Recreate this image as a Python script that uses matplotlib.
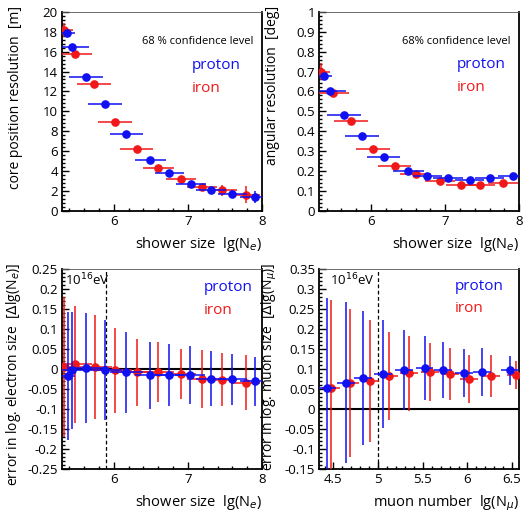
import numpy as np
import matplotlib
matplotlib.use("Agg")
import matplotlib.pyplot as plt
from matplotlib.ticker import MultipleLocator, AutoMinorLocator

plt.rcParams["font.family"] = ["Open Sans", "DejaVu Sans"]
plt.rcParams["axes.unicode_minus"] = False

BLUE = "#1010f0"
RED = "#f01818"

# --- core position resolution vs shower size ---
core_p_x = [5.37, 5.44, 5.63, 5.88, 6.17, 6.49, 6.75, 7.04, 7.31, 7.60, 7.91]
core_p_y = [17.9, 16.5, 13.5, 10.7, 7.7, 5.07, 3.86, 2.75, 2.1, 1.68, 1.4]
core_p_yerr = [0.3, 0.2, 0.2, 0.2, 0.2, 0.2, 0.2, 0.2, 0.3, 0.4, 0.6]
core_r_x = [5.33, 5.48, 5.73, 6.02, 6.31, 6.60, 6.91, 7.19, 7.46, 7.78]
core_r_y = [18.2, 15.8, 12.7, 8.9, 6.25, 4.36, 3.22, 2.45, 2.08, 1.64]
core_r_yerr = [0.7, 0.2, 0.2, 0.2, 0.2, 0.2, 0.2, 0.3, 0.55, 0.85]

# --- angular resolution vs shower size ---
ang_p_x = [5.37, 5.44, 5.63, 5.88, 6.17, 6.50, 6.76, 7.04, 7.33, 7.60, 7.92]
ang_p_y = [0.68, 0.604, 0.483, 0.374, 0.273, 0.201, 0.176, 0.164, 0.154, 0.164, 0.173]
ang_p_yerr = [0.01, 0.01, 0.008, 0.008, 0.006, 0.006, 0.006, 0.006, 0.006, 0.008, 0.01]
ang_r_x = [5.32, 5.48, 5.73, 6.02, 6.32, 6.60, 6.93, 7.21, 7.47, 7.78]
ang_r_y = [0.70, 0.593, 0.45, 0.31, 0.227, 0.186, 0.148, 0.128, 0.131, 0.138]
ang_r_yerr = [0.045, 0.01, 0.008, 0.008, 0.006, 0.006, 0.006, 0.006, 0.008, 0.01]

# x error (bin half width) for shower size panels
ne_p_xerr = [0.1, 0.22, 0.23, 0.23, 0.22, 0.21, 0.2, 0.2, 0.2, 0.2, 0.2]
ne_r_xerr = [0.12, 0.22, 0.23, 0.23, 0.22, 0.21, 0.2, 0.2, 0.2, 0.2]

# --- error in log electron size ---
dne_p_x = [5.38, 5.44, 5.63, 5.88, 6.17, 6.49, 6.75, 7.03, 7.31, 7.60, 7.91]
dne_p_y = [-0.0175, -0.004, 0.002, -0.003, -0.009, -0.016, -0.015, -0.015, -0.024, -0.026, -0.031]
dne_p_yerr = [0.16, 0.145, 0.137, 0.124, 0.10, 0.084, 0.078, 0.073, 0.069, 0.064, 0.061]
dne_r_x = [5.33, 5.48, 5.74, 6.02, 6.31, 6.60, 6.91, 7.19, 7.46, 7.78]
dne_r_y = [0.004, 0.012, 0.004, -0.004, -0.009, -0.008, -0.013, -0.025, -0.027, -0.034]
dne_r_yerr = [0.175, 0.146, 0.13, 0.106, 0.084, 0.075, 0.062, 0.073, 0.066, 0.068]

# --- error in log muon size ---
dnm_p_x = [4.43, 4.64, 4.835, 5.055, 5.29, 5.52, 5.73, 5.96, 6.165, 6.48]
dnm_p_y = [0.053, 0.066, 0.077, 0.0875, 0.097, 0.102, 0.0975, 0.089, 0.093, 0.096]
dnm_p_yerr = [0.225, 0.2, 0.168, 0.135, 0.1, 0.08, 0.07, 0.06, 0.06, 0.037]
dnm_r_x = [4.47, 4.69, 4.905, 5.12, 5.35, 5.58, 5.80, 6.02, 6.26, 6.54]
dnm_r_y = [0.053, 0.064, 0.069, 0.083, 0.089, 0.092, 0.087, 0.075, 0.083, 0.085]
dnm_r_yerr = [0.22, 0.185, 0.152, 0.11, 0.093, 0.073, 0.065, 0.059, 0.052, 0.034]
nmu_xerr = 0.1

fig = plt.figure(figsize=(5.25, 5.12), dpi=100)
ax1 = fig.add_axes([0.118, 0.588, 0.381, 0.389])
ax2 = fig.add_axes([0.608, 0.588, 0.381, 0.389])
ax3 = fig.add_axes([0.118, 0.084, 0.381, 0.391])
ax4 = fig.add_axes([0.608, 0.084, 0.381, 0.391])


def draw(ax, x, y, xerr, yerr, color, z):
    ax.errorbar(x, y, xerr=xerr, yerr=yerr, fmt="o", color=color, ms=5.2,
                elinewidth=1.1, capsize=0, zorder=z, clip_on=True)


def style(ax, xmaj, ymaj):
    ax.xaxis.set_major_locator(MultipleLocator(xmaj))
    ax.yaxis.set_major_locator(MultipleLocator(ymaj))
    ax.xaxis.set_minor_locator(AutoMinorLocator(5))
    ax.yaxis.set_minor_locator(AutoMinorLocator(5))
    ax.tick_params(which="both", direction="in", top=False, right=False,
                   labelsize=9.5, width=1.0, pad=3)
    ax.tick_params(which="major", length=5)
    ax.tick_params(which="minor", length=2.5)
    for s in ["left", "bottom", "right"]:
        ax.spines[s].set_linewidth(1.3)
    ax.spines["top"].set_linewidth(0.6)
    ax.spines["top"].set_color("#555555")


def labels(ax, xl, yl, xcoord):
    ax.set_ylabel(yl, fontsize=10, loc="top")
    ax.yaxis.set_label_coords(xcoord, 1.03)
    ax.set_xlabel(xl, fontsize=10.5, loc="right", labelpad=5)


# top left
draw(ax1, core_r_x, core_r_y, ne_r_xerr, core_r_yerr, RED, 3)
draw(ax1, core_p_x, core_p_y, ne_p_xerr, core_p_yerr, BLUE, 4)
ax1.set_xlim(5.3, 8)
ax1.set_ylim(0, 20)
style(ax1, 1, 2)
labels(ax1, "shower size  lg(N$_e$)", "core position resolution  [m]", -0.195)
ax1.text(0.955, 0.85, "68 % confidence level", transform=ax1.transAxes,
         ha="right", va="center", fontsize=8)
ax1.text(0.65, 0.73, "proton", color=BLUE, transform=ax1.transAxes,
         ha="left", va="center", fontsize=11)
ax1.text(0.65, 0.615, "iron", color=RED, transform=ax1.transAxes,
         ha="left", va="center", fontsize=11)

# top right
draw(ax2, ang_r_x, ang_r_y, ne_r_xerr, ang_r_yerr, RED, 3)
draw(ax2, ang_p_x, ang_p_y, ne_p_xerr, ang_p_yerr, BLUE, 4)
ax2.set_xlim(5.3, 8)
ax2.set_ylim(0, 1)
style(ax2, 1, 0.1)
ax2.set_yticks(np.arange(0, 1.01, 0.1))
ax2.set_yticklabels(["0", "0.1", "0.2", "0.3", "0.4", "0.5", "0.6", "0.7", "0.8", "0.9", "1"])
labels(ax2, "shower size  lg(N$_e$)", "angular resolution  [deg]", -0.195)
ax2.text(0.955, 0.85, "68% confidence level", transform=ax2.transAxes,
         ha="right", va="center", fontsize=8)
ax2.text(0.69, 0.735, "proton", color=BLUE, transform=ax2.transAxes,
         ha="left", va="center", fontsize=11)
ax2.text(0.69, 0.62, "iron", color=RED, transform=ax2.transAxes,
         ha="left", va="center", fontsize=11)

# bottom left
draw(ax3, dne_r_x, dne_r_y, ne_r_xerr, dne_r_yerr, RED, 3)
draw(ax3, dne_p_x, dne_p_y, ne_p_xerr, dne_p_yerr, BLUE, 4)
ax3.axhline(0, color="black", lw=1.5, zorder=2)
ax3.axvline(5.9, color="black", lw=0.9, ls=(0, (3, 2)), zorder=2)
ax3.set_xlim(5.3, 8)
ax3.set_ylim(-0.25, 0.25)
style(ax3, 1, 0.05)
yt = np.round(np.arange(-0.25, 0.251, 0.05), 2)
ax3.set_yticks(yt)
ax3.set_yticklabels([("%g" % v) if v != 0 else "0" for v in yt])
labels(ax3, "shower size  lg(N$_e$)",
       "error in log. electron size  [$\\Delta$lg(N$_e$)]", -0.195)
ax3.text(0.015, 0.945, "10$^{16}$eV", transform=ax3.transAxes,
         ha="left", va="center", fontsize=9.5)
ax3.text(0.71, 0.905, "proton", color=BLUE, transform=ax3.transAxes,
         ha="left", va="center", fontsize=11)
ax3.text(0.71, 0.79, "iron", color=RED, transform=ax3.transAxes,
         ha="left", va="center", fontsize=11)

# bottom right
draw(ax4, dnm_r_x, dnm_r_y, nmu_xerr, dnm_r_yerr, RED, 3)
draw(ax4, dnm_p_x, dnm_p_y, nmu_xerr, dnm_p_yerr, BLUE, 4)
ax4.axhline(0, color="black", lw=1.5, zorder=2)
ax4.axvline(5.0, color="black", lw=0.9, ls=(0, (3, 2)), zorder=2)
ax4.set_xlim(4.34, 6.58)
ax4.set_ylim(-0.15, 0.35)
style(ax4, 0.5, 0.05)
yt = np.round(np.arange(-0.15, 0.351, 0.05), 2)
ax4.set_yticks(yt)
ax4.set_yticklabels([("%g" % v) if v != 0 else "0" for v in yt])
ax4.set_xticks([4.5, 5, 5.5, 6, 6.5])
ax4.set_xticklabels(["4.5", "5", "5.5", "6", "6.5"])
labels(ax4, "muon number  lg(N$_\\mu$)",
       "error in log. muon size  [$\\Delta$lg(N$_\\mu$)]", -0.2)
ax4.text(0.28, 0.945, "10$^{16}$eV", transform=ax4.transAxes,
         ha="right", va="center", fontsize=9.5)
ax4.text(0.68, 0.91, "proton", color=BLUE, transform=ax4.transAxes,
         ha="left", va="center", fontsize=11)
ax4.text(0.68, 0.80, "iron", color=RED, transform=ax4.transAxes,
         ha="left", va="center", fontsize=11)

fig.savefig("out.png", dpi=100)
